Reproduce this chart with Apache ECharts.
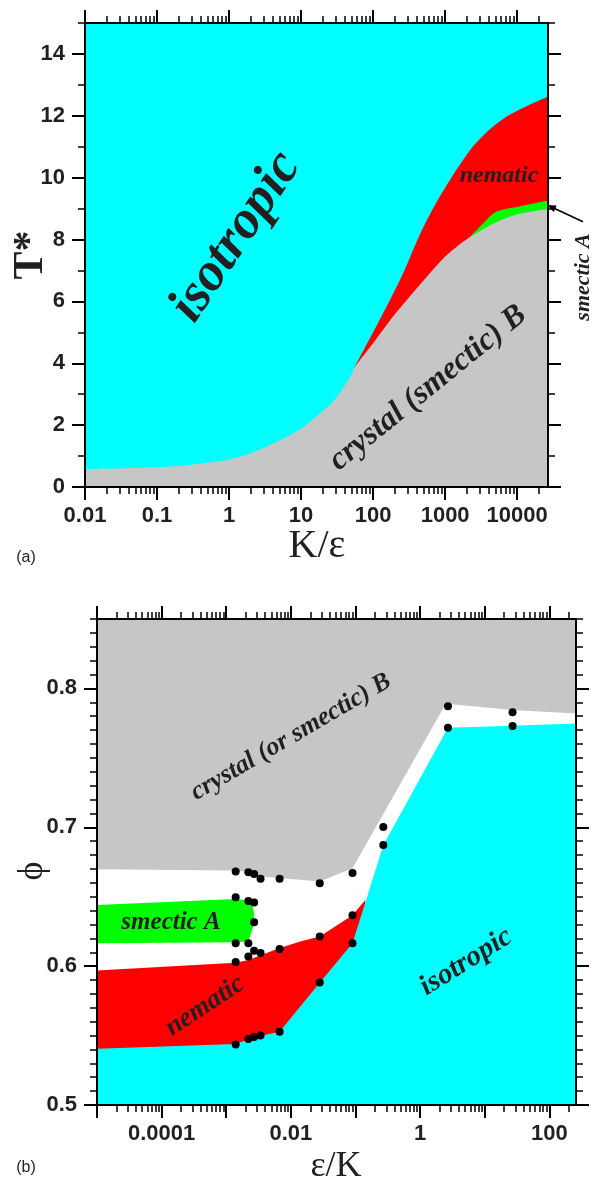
<!DOCTYPE html>
<html><head><meta charset="utf-8">
<script src="https://cdn.jsdelivr.net/npm/echarts@6/dist/echarts.min.js"></script>
<style>html,body{margin:0;padding:0;background:#fff}#c{width:598px;height:1180px}</style>
</head><body><div id="c"></div>
<script>
// ---------- Panel (a): T* vs K/epsilon ----------
const aXMajor = [0.01, 0.1, 1, 10, 100, 1000, 10000];
const aXLabels = ['0.01', '0.1', '1', '10', '100', '1000', '10000'];
const aXMinorMult = [2, 3, 4, 5, 6, 7, 8, 9];
const aXMinorDecades = [0.01, 0.1, 1, 10, 100, 1000];
const aXMinorExtra = [20000];
const aYMajor = [0, 2, 4, 6, 8, 10, 12, 14];
const aYLabels = ['0', '2', '4', '6', '8', '10', '12', '14'];
const aYMinor = [1, 3, 5, 7, 9, 11, 13, 15];
// upper boundary of crystal (smectic) B
const aCrystal = [[0.01,0.58],[0.03,0.6],[0.1,0.635],[0.3,0.72],[0.7,0.83],[1,0.89],[2,1.09],[5,1.5],[10,1.88],[17,2.32],[29,2.81],[50,3.62],[55,3.86],[100,4.65],[180,5.45],[290,6.03],[550,6.78],[1040,7.48],[2190,8.07],[5140,8.56],[10800,8.83],[26800,8.99]];
// upper boundary of nematic
const aNematic = [[55,3.86],[100,5.0],[170,6.03],[260,6.9],[440,8.13],[680,9.0],[1040,9.74],[2190,10.87],[3730,11.46],[6300,11.89],[10800,12.2],[26800,12.62]];
// upper boundary of smectic A
const aSmecticA = [[2190,8.07],[3300,8.5],[5140,8.9],[10800,9.07],[26800,9.26]];

// ---------- Panel (b): phi vs epsilon/K ----------
const bXMajor = [0.00001, 0.0001, 0.001, 0.01, 0.1, 1, 10, 100];
const bXLabelValues = [0.0001, 0.01, 1, 100];
const bXLabels = ['0.0001', '0.01', '1', '100'];
const bXMinorDecades = [0.00001, 0.0001, 0.001, 0.01, 0.1, 1, 10];
const bXMinorExtra = [200];
const bYMajor = [0.5, 0.6, 0.7, 0.8];
const bYLabels = ['0.5', '0.6', '0.7', '0.8'];
const bYMinor = [0.51,0.52,0.53,0.54,0.55,0.56,0.57,0.58,0.59,0.61,0.62,0.63,0.64,0.65,0.66,0.67,0.68,0.69,0.71,0.72,0.73,0.74,0.75,0.76,0.77,0.78,0.79,0.81,0.82,0.83,0.84,0.85];
// lower boundary of crystal (or smectic) B
const bCrystal = [[0.00001,0.6698],[0.0014,0.6688],[0.0022,0.668],[0.0027,0.667],[0.0034,0.6645],[0.0067,0.6635],[0.028,0.661],[0.09,0.6705],[2.5,0.789],[27,0.7845],[260,0.782]];
// upper boundary of nematic
const bNematic = [[0.00001,0.5968],[0.0014,0.6025],[0.0022,0.6045],[0.0067,0.613],[0.014,0.6177],[0.028,0.6213],[0.09,0.6367],[0.142,0.6477]];
// upper boundary of isotropic
const bIsotropic = [[0.00001,0.5405],[0.0014,0.544],[0.0022,0.5472],[0.0034,0.5498],[0.0067,0.5527],[0.028,0.588],[0.09,0.6165],[0.27,0.687],[2.7,0.7717],[27,0.7732],[260,0.7748]];
// smectic A outline
const bSmecticA = [[0.00001,0.6441],[0.0014,0.6484],[0.0022,0.6475],[0.0025,0.6455],[0.0027,0.638],[0.0026,0.628],[0.0022,0.6177],[0.0014,0.6172],[0.00001,0.6165]];
// simulation state points
const bPoints = [[0.0014,0.6681],[0.0022,0.6676],[0.0027,0.6664],[0.0034,0.663],[0.0067,0.663],[0.028,0.6597],[0.09,0.6671],[0.27,0.7002],[0.27,0.6872],[2.7,0.7871],[2.7,0.7717],[27,0.7829],[27,0.7729],[0.0014,0.6496],[0.0022,0.647],[0.0027,0.6458],[0.0027,0.6317],[0.0014,0.6165],[0.0022,0.6165],[0.0027,0.611],[0.0034,0.6094],[0.0022,0.6069],[0.0014,0.6029],[0.0067,0.6124],[0.09,0.6367],[0.028,0.6213],[0.09,0.6165],[0.028,0.5882],[0.0014,0.5436],[0.0022,0.5475],[0.0027,0.5489],[0.0034,0.5501],[0.0067,0.5527]];

const aXMinor = aXMinorDecades.flatMap(d => aXMinorMult.map(m => +(m * d).toPrecision(6))).concat(aXMinorExtra);
const bXMinor = bXMinorDecades.flatMap(d => aXMinorMult.map(m => +(m * d).toPrecision(6))).concat(bXMinorExtra);

const INK = '#231f20';
const SANS = '"Liberation Sans", Arial, sans-serif';
const SERIF = '"Liberation Serif", "Times New Roman", serif';

function lookup(vals, labels) {
  return function (v) {
    for (let i = 0; i < vals.length; i++) {
      if (Math.abs(v - vals[i]) <= Math.abs(vals[i]) * 1e-6 + 1e-12) return labels[i];
    }
    return '';
  };
}

function axisSet(dim, type, gridIndex, min, max, major, labelVals, labels, minor) {
  const pos = dim === 'x' ? ['bottom', 'top'] : ['left', 'right'];
  const base = { type: type, gridIndex: gridIndex, min: min, max: max, z: 10,
    splitLine: { show: false }, minorTick: { show: false }, minorSplitLine: { show: false } };
  if (type === 'log') base.logBase = 10;
  const lineOn = { show: true, onZero: false, lineStyle: { color: '#000', width: 2 } };
  const lineOff = { show: false, onZero: false };
  const majTick = { show: true, inside: false, length: 13, customValues: major, lineStyle: { color: '#000', width: 2 } };
  const minTick = { show: true, inside: false, length: 7, customValues: minor, lineStyle: { color: '#000', width: 1.5 } };
  const label = { show: true, customValues: labelVals, margin: dim === 'x' ? 18 : 20,
    formatter: lookup(labelVals, labels), fontFamily: SANS, fontWeight: 'bold', fontSize: 22, color: INK };
  return [
    Object.assign({}, base, { position: pos[0], axisLine: lineOn, axisTick: majTick, axisLabel: label }),
    Object.assign({}, base, { position: pos[0], axisLine: lineOff, axisTick: minTick, axisLabel: { show: false } }),
    Object.assign({}, base, { position: pos[1], axisLine: lineOn, axisTick: majTick, axisLabel: { show: false } }),
    Object.assign({}, base, { position: pos[1], axisLine: lineOff, axisTick: minTick, axisLabel: { show: false } })
  ];
}

function area(xi, data, color, origin, smooth) {
  return { type: 'line', xAxisIndex: xi, yAxisIndex: xi, data: data, smooth: smooth,
    symbol: 'none', silent: true, lineStyle: { width: 0, opacity: 0 },
    areaStyle: { color: color, opacity: 1, origin: origin }, animation: false };
}

function txt(x, y, text, font, rotDeg) {
  return { type: 'text', x: x, y: y, rotation: (rotDeg || 0) * Math.PI / 180, z: 100,
    style: { text: text, font: font, fill: INK, align: 'center', verticalAlign: 'middle' } };
}

const chart = echarts.init(document.getElementById('c'), null, { renderer: 'canvas' });
chart.setOption({
  animation: false,
  backgroundColor: '#fff',
  grid: [
    { left: 85, top: 23, width: 463, height: 464, show: true, backgroundColor: '#00ffff', borderWidth: 0 },
    { left: 97, top: 619, width: 479, height: 486, show: false }
  ],
  xAxis: [].concat(
    axisSet('x', 'log', 0, 0.01, 26800, aXMajor, aXMajor, aXLabels, aXMinor),
    axisSet('x', 'log', 1, 0.00001, 259, bXMajor, bXLabelValues, bXLabels, bXMinor)
  ),
  yAxis: [].concat(
    axisSet('y', 'value', 0, 0, 15, aYMajor, aYMajor, aYLabels, aYMinor),
    axisSet('y', 'value', 1, 0.5, 0.85, bYMajor, bYMajor, bYLabels, bYMinor)
  ),
  series: [
    area(0, aNematic, '#ff0000', 'start', 0.3),
    area(0, aSmecticA, '#00ff00', 'start', 0.3),
    area(0, aCrystal, '#c6c6c6', 'start', 0.3),
    area(4, bCrystal, '#c6c6c6', 'end', false),
    area(4, bNematic, '#ff0000', 'start', false),
    area(4, bIsotropic, '#00ffff', 'start', false),
    { type: 'custom', xAxisIndex: 4, yAxisIndex: 4, data: bSmecticA, silent: true,
      renderItem: function (params, api) {
        if (params.dataIndex !== 0) return null;
        return { type: 'polygon', shape: { points: bSmecticA.map(p => api.coord(p)) }, style: { fill: '#00ff00' } };
      } },
    { type: 'scatter', xAxisIndex: 4, yAxisIndex: 4, data: bPoints, symbol: 'circle', symbolSize: 8,
      itemStyle: { color: '#000', opacity: 1 }, silent: true, z: 5 }
  ],
  graphic: [
    txt(31, 255, 'T*', 'bold 42px ' + SERIF, 90),
    txt(317, 546, 'K/\u03b5', '40px ' + SERIF),
    txt(26, 558, '(a)', '16px ' + SANS),
    txt(236, 237, 'isotropic', 'bold italic 54px ' + SERIF, 56),
    txt(499, 176, 'nematic', 'bold italic 24px ' + SERIF),
    txt(428, 388, 'crystal (smectic) B', 'bold italic 32px ' + SERIF, 39),
    txt(583, 277, 'smectic A', 'bold italic 22px ' + SERIF, 90),
    { type: 'line', z: 100, shape: { x1: 583, y1: 221.7, x2: 553, y2: 207.8 }, style: { stroke: '#000', lineWidth: 1.6 } },
    { type: 'polygon', z: 100, shape: { points: [[547, 205], [556.7, 205.6], [553.7, 212]] }, style: { fill: '#000' } },
    txt(33, 871, '\u03d5', '36px ' + SERIF, 90),
    txt(336, 1167, '\u03b5/K', '36px ' + SERIF),
    txt(26, 1168, '(b)', '16px ' + SANS),
    txt(291, 737, 'crystal (or smectic) B', 'bold italic 26px ' + SERIF, 30.4),
    txt(171, 923, 'smectic A', 'bold italic 25px ' + SERIF),
    txt(205, 1006, 'nematic', 'bold italic 27px ' + SERIF, 33.5),
    txt(466, 962, 'isotropic', 'bold italic 29px ' + SERIF, 32)
  ]
});
</script>
</body></html>
